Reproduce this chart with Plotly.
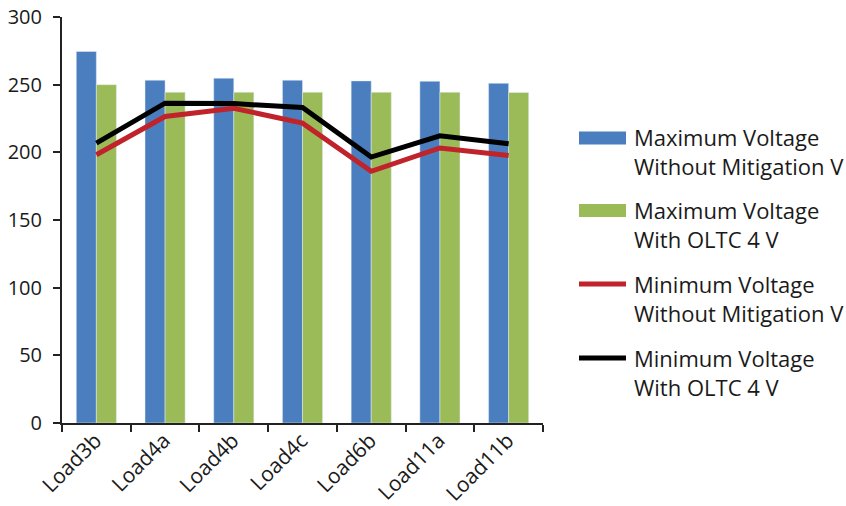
import plotly.graph_objects as go

# Load points and measured voltages (V)
loads = ["Load3b", "Load4a", "Load4b", "Load4c", "Load6b", "Load11a", "Load11b"]
max_without = [274.5, 253.3, 254.8, 253.3, 252.8, 252.5, 251.0]
max_oltc = [250.0, 244.4, 244.4, 244.4, 244.4, 244.4, 244.2]
min_without = [198.2, 226.5, 232.6, 221.6, 186.0, 203.2, 197.7]
min_oltc = [206.8, 236.3, 236.0, 233.1, 196.5, 212.2, 206.3]

names = [
    "Maximum Voltage<br>Without Mitigation V",
    "Maximum Voltage<br>With OLTC 4 V",
    "Minimum Voltage<br>Without Mitigation V",
    "Minimum Voltage<br>With OLTC 4 V",
]

BLUE = "#4A7EBF"
GREEN = "#9BBB59"
RED = "#C1232B"
BLACK = "#000000"
FONT = "Open Sans"

fig = go.Figure()
fig.add_trace(go.Bar(x=loads, y=max_without, marker_color=BLUE, showlegend=False))
fig.add_trace(go.Bar(x=loads, y=max_oltc, marker_color=GREEN, showlegend=False))
fig.add_trace(go.Scatter(x=loads, y=min_without, mode="lines",
                         line=dict(color=RED, width=5), showlegend=False))
fig.add_trace(go.Scatter(x=loads, y=min_oltc, mode="lines",
                         line=dict(color=BLACK, width=5), showlegend=False))

# plot-area geometry in pixels, used to place the hand-built legend
W_PX, H_PX = 846, 506
L, R, T, B = 62, 543, 17, 423


def px_x(px):
    return (px - L) / (R - L)


def px_y(py):
    return (B - py) / (B - T)


# legend: (kind, colour, swatch centre y, text block centre y)
legend_rows = [
    ("bar", BLUE, 138, 151.5),
    ("bar", GREEN, 210.5, 224.5),
    ("line", RED, 284, 298),
    ("line", BLACK, 358, 372.5),
]
shapes = []
annotations = []
for (kind, color, sy, ty), label in zip(legend_rows, names):
    if kind == "bar":
        shapes.append(dict(type="rect", xref="paper", yref="paper",
                           x0=px_x(579), x1=px_x(626), y0=px_y(sy + 6.5), y1=px_y(sy - 6.5),
                           fillcolor=color, line=dict(width=0)))
    else:
        shapes.append(dict(type="line", xref="paper", yref="paper",
                           x0=px_x(579), x1=px_x(626), y0=px_y(sy), y1=px_y(sy),
                           line=dict(color=color, width=5)))
    annotations.append(dict(xref="paper", yref="paper", x=px_x(632), y=px_y(ty),
                            xanchor="left", yanchor="middle", align="left",
                            text=label, showarrow=False,
                            font=dict(family=FONT, size=22, color="#1a1a1a")))

fig.update_layout(
    width=W_PX, height=H_PX,
    margin=dict(l=L, r=W_PX - R, t=T, b=H_PX - B, pad=0, autoexpand=False),
    paper_bgcolor="white", plot_bgcolor="white",
    barmode="group", bargap=0.416, bargroupgap=0,
    font=dict(family=FONT, size=20, color="#1a1a1a"),
    shapes=shapes, annotations=annotations,
    xaxis=dict(showline=True, linecolor="#222", linewidth=2, automargin=False,
               ticks="outside", tickson="boundaries", ticklen=7, tickwidth=2,
               tickcolor="#222", tickangle=-45, showgrid=False,
               ticklabelstandoff=-5, ticklabelshift=-1,
               tickfont=dict(size=21)),
    yaxis=dict(range=[0, 300], dtick=50, showline=True, linecolor="#222", linewidth=2,
               automargin=False, ticks="outside", ticklen=7, tickwidth=2, tickcolor="#222",
               ticklabelstandoff=7,
               showgrid=False, zeroline=False, tickfont=dict(size=20)),
)

fig.write_html("out.html")
